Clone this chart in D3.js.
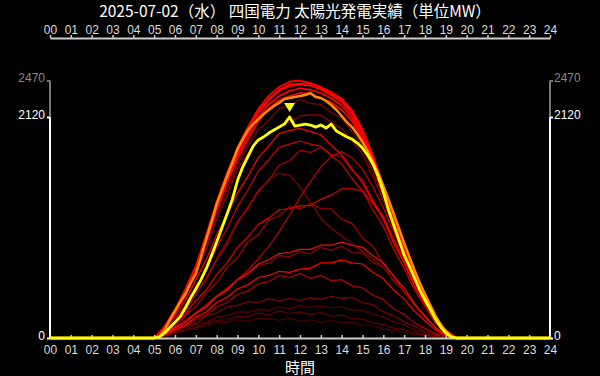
<!DOCTYPE html>
<html>
<head>
<meta charset="utf-8">
<script src="https://cdn.jsdelivr.net/npm/d3@7"></script>
<style>
html, body { margin: 0; padding: 0; background: #000; }
svg { display: block; font-family: "Noto Sans CJK JP", "Noto Sans", sans-serif; }
</style>
</head>
<body>
<svg id="chart" width="600" height="376"></svg>
<script>
const TITLE = "2025-07-02（水） 四国電力 太陽光発電実績（単位MW）";
const X_LABEL = "時間";
const HOUR_TICKS = d3.range(0, 25);
const Y_TICKS = [0, 2120, 2470];

// today / yesterday, 15-minute values from 05:00 to 19:30
const quarterTimes = d3.range(5, 19.51, 0.25);
const todayMW = [0, 10, 48, 100, 150, 205, 290, 385, 470, 560, 665, 790, 920, 1055, 1190, 1330,
  1510, 1640, 1740, 1840, 1900, 1928, 1966, 1995, 2023, 2052, 2120, 2033, 2043, 2052, 2043, 2023,
  2043, 2014, 2052, 1985, 1956, 1928, 1908, 1870, 1822, 1755, 1669, 1554, 1400, 1228, 1084, 940,
  796, 690, 575, 460, 364, 278, 182, 105, 48, 10, 0];
const yesterdayMW = [0, 15, 77, 173, 259, 345, 422, 527, 614, 777, 949, 1112, 1285, 1419, 1554, 1678,
  1813, 1908, 1995, 2052, 2100, 2148, 2187, 2225, 2254, 2292, 2302, 2311, 2321, 2330, 2350, 2311,
  2302, 2273, 2235, 2187, 2129, 2071, 2023, 1956, 1880, 1790, 1690, 1580, 1460, 1330, 1190, 1050,
  910, 780, 650, 530, 420, 315, 215, 130, 65, 20, 0];

// earlier days, 30-minute values from 05:00 to 19:30
const halfTimes = d3.range(5, 19.51, 0.5);
const pastDays = [
  [0,15,40,70,95,120,145,150,175,160,190,185,170,190,160,175,150,170,145,150,120,115,85,75,50,35,20,10,3,0],
  [0,18,50,80,100,140,170,175,210,205,240,220,260,235,250,225,245,210,220,185,180,145,130,95,80,50,30,15,5,0],
  [0,20,55,80,130,150,200,215,250,245,275,265,300,280,310,295,305,290,300,270,265,225,205,155,125,78,45,20,7,0],
  [0,25,60,110,140,210,240,300,310,350,340,375,355,380,360,385,370,400,380,390,340,320,250,215,155,112,62,30,10,0],
  [0,30,75,115,180,220,300,340,420,450,520,540,600,580,620,570,600,550,560,500,480,410,370,280,225,145,92,42,15,0],
  [0,35,90,145,230,290,395,450,560,600,700,715,790,780,830,810,870,840,880,820,815,725,680,545,450,310,205,95,35,0],
  [0,60,150,280,420,580,760,930,1100,1260,1400,1520,1580,1560,1450,1300,1150,1050,980,900,830,760,680,560,440,320,200,100,35,0],
  [0,50,115,215,300,430,530,680,770,920,990,1130,1170,1260,1240,1290,1240,1240,1140,1100,960,880,710,600,440,330,195,100,35,0],
  [0,55,155,260,420,560,750,900,1120,1240,1420,1510,1660,1700,1800,1780,1830,1760,1740,1610,1520,1320,1170,920,740,500,335,160,55,0],
  [0,40,100,170,240,320,400,480,560,650,760,880,1020,1180,1350,1500,1640,1740,1790,1730,1620,1450,1250,1020,790,560,355,175,55,0],
  [0,85,235,390,610,850,1140,1370,1620,1770,1910,1950,2040,2070,2130,2140,2140,2070,2010,1890,1770,1550,1320,1040,810,550,355,170,60,0],
  [0,95,245,415,640,890,1200,1430,1670,1840,2000,2090,2200,2230,2290,2250,2240,2160,2110,1980,1840,1600,1360,1070,830,565,365,178,60,0],
  [0,30,80,125,200,250,340,390,470,510,580,600,640,630,660,670,720,720,750,720,710,630,570,460,375,255,165,78,25,0],
  [0,40,100,150,240,300,400,460,560,620,710,750,810,820,850,850,890,890,920,890,870,790,720,590,480,330,215,100,35,0],
  [0,55,145,230,360,460,610,720,870,970,1090,1150,1230,1240,1270,1270,1330,1370,1430,1430,1410,1290,1160,950,760,530,345,165,55,0],
  [0,70,185,310,490,650,870,1050,1260,1420,1600,1710,1830,1860,1890,1860,1840,1750,1670,1530,1410,1230,1070,850,670,460,305,145,50,0],
  [0,85,215,360,560,750,990,1180,1390,1550,1730,1840,1960,1990,2010,1980,1950,1850,1760,1620,1490,1310,1140,910,720,490,325,155,55,0],
  [0,98,250,432,648,925,1230,1490,1720,1905,2080,2200,2280,2320,2350,2345,2300,2260,2190,2080,1900,1660,1375,1095,835,575,365,180,62,0],
  [0,100,255,440,660,945,1250,1515,1755,1950,2120,2240,2320,2370,2395,2380,2350,2300,2230,2115,1935,1690,1400,1115,850,585,370,185,65,0],
  [0,105,262,455,675,965,1280,1550,1790,1985,2160,2280,2370,2415,2430,2420,2385,2330,2265,2150,1970,1720,1430,1140,870,600,385,190,70,0],
  [0,108,265,460,680,970,1290,1560,1800,1990,2170,2290,2380,2430,2440,2440,2400,2345,2280,2170,1990,1740,1445,1150,880,610,390,195,72,0],
  [0,111,272,469,692,988,1309,1581,1828,2025,2198,2322,2408,2458,2470,2445,2408,2359,2297,2186,2001,1754,1457,1161,889,618,395,198,74,0]
];
const pastColors = ["#4a0000", "#600000", "#580000", "#800000", "#b00000", "#900000", "#880000", "#a80000",
  "#b00000", "#c00000", "#9a0000", "#8b0000", "#ff0000", "#ee1010", "#e00000", "#d00000", "#ff0000",
  "#ff0000", "#ff0000", "#ff0000", "#ff0000", "#ff0000"];

const svg = d3.select("#chart");
const x = d3.scaleLinear().domain([0, 24]).range([50, 550]);
const y = d3.scaleLinear().domain([0, 2470]).range([338, 80.5]);

const withNight = (times, vals) => [[0, 0], ...times.map((t, i) => [t, vals[i]]), [24, 0]];
const line = d3.line().x(d => x(d[0])).y(d => y(d[1]));

// title
svg.append("text")
  .attr("x", 295).attr("y", 17)
  .attr("text-anchor", "middle")
  .attr("fill", "#fff")
  .attr("font-size", 15.5)
  .text(TITLE);

// x axes, top and bottom
function styleAxis(g) {
  g.select(".domain").attr("stroke", "#ccc").attr("stroke-width", 2);
  g.selectAll(".tick line").attr("stroke", "#ccc").attr("stroke-width", 1.5);
  g.selectAll(".tick text").attr("fill", "#ddd").attr("font-size", 12);
}
svg.append("g")
  .attr("transform", "translate(0,38)")
  .call(d3.axisTop(x).tickValues(HOUR_TICKS).tickFormat(d3.format("02d")).tickSize(3).tickSizeOuter(0).tickPadding(1))
  .call(styleAxis);

// y axes: grey above today's max, white below
const yMaxToday = d3.max(todayMW);
[[x(0), -1], [x(24), 1]].forEach(([px, dir]) => {
  svg.append("line").attr("x1", px).attr("x2", px)
    .attr("y1", y(Y_TICKS[2])).attr("y2", y(yMaxToday))
    .attr("stroke", "#777").attr("stroke-width", 2);
  svg.append("line").attr("x1", px).attr("x2", px)
    .attr("y1", y(yMaxToday)).attr("y2", y(0))
    .attr("stroke", "#fff").attr("stroke-width", 2);
  const ax = dir < 0 ? d3.axisLeft(y) : d3.axisRight(y);
  const g = svg.append("g")
    .attr("transform", `translate(${px},0)`)
    .call(ax.tickValues(Y_TICKS).tickFormat(d3.format("d")).tickSize(3).tickPadding(dir < 0 ? 2 : 1));
  g.select(".domain").remove();
  g.selectAll(".tick line").attr("stroke", d => d === 2470 ? "#777" : "#fff").attr("stroke-width", 2);
  g.selectAll(".tick text")
    .attr("fill", d => d === 2470 ? "#888" : "#fff")
    .attr("font-size", 12)
    .attr("dy", "0.1em");
});

// earlier days
svg.append("g").selectAll("path")
  .data(pastDays)
  .join("path")
  .attr("d", d => line(withNight(halfTimes, d)))
  .attr("fill", "none")
  .attr("stroke", (d, i) => pastColors[i])
  .attr("stroke-width", (d, i) => i >= 17 ? 1.8 : 1.2)
  .attr("stroke-linejoin", "round");

svg.append("path")
  .attr("d", line(withNight(quarterTimes, yesterdayMW)))
  .attr("fill", "none").attr("stroke", "#ff8c00").attr("stroke-width", 2.5)
  .attr("stroke-linejoin", "round");

svg.append("g")
  .attr("transform", "translate(0,338)")
  .call(d3.axisBottom(x).tickValues(HOUR_TICKS).tickFormat(d3.format("02d")).tickSize(-3).tickSizeOuter(0).tickPadding(7))
  .call(styleAxis);

svg.append("path")
  .attr("d", line(withNight(quarterTimes, todayMW)))
  .attr("fill", "none").attr("stroke", "#ffff00").attr("stroke-width", 2.8)
  .attr("stroke-linejoin", "round");

// marker over today's peak
const iPeak = d3.maxIndex(todayMW);
svg.append("path")
  .attr("transform", `translate(${x(quarterTimes[iPeak])},${y(todayMW[iPeak])})`)
  .attr("d", "M-5.5,-14L5.5,-14L0,-5Z")
  .attr("fill", "#ffff00");

svg.append("text")
  .attr("x", 300).attr("y", 373)
  .attr("text-anchor", "middle")
  .attr("fill", "#fff")
  .attr("font-size", 15)
  .text(X_LABEL);
</script>
</body>
</html>
